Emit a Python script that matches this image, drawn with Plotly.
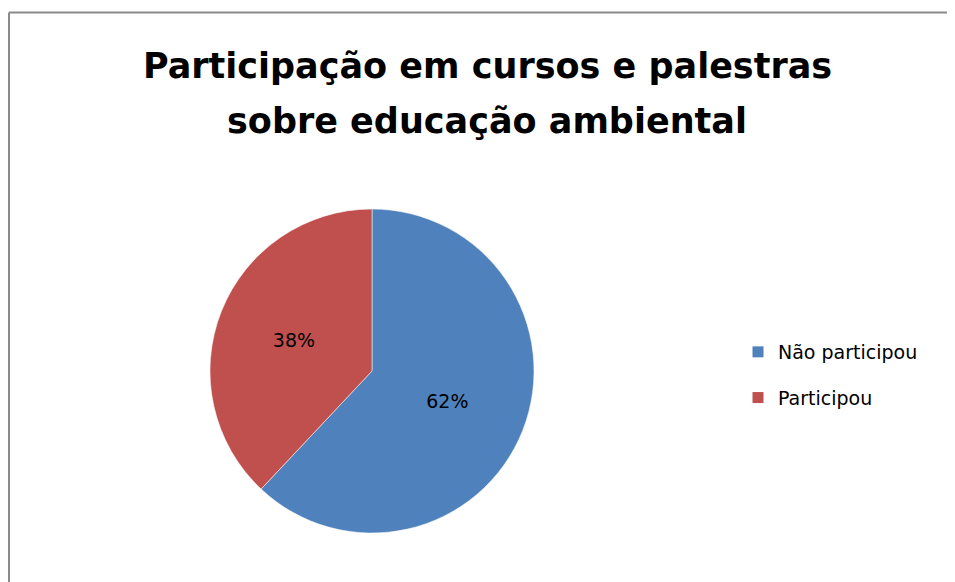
import plotly.graph_objects as go

categories = ["Não participou", "Participou"]
values = [62, 38]
colors = ["#4F81BD", "#C0504D"]
title_lines = ["Participação em cursos e palestras", "sobre educação ambiental"]

# the page body adds an 8px margin, so the figure is 8px smaller each way
W, H = 947, 574

fig = go.Figure()
fig.add_trace(go.Pie(
    labels=categories,
    values=values,
    sort=False,
    direction="clockwise",
    rotation=0,
    marker=dict(colors=colors, line=dict(color="rgba(255,255,255,0.5)", width=1)),
    textinfo="percent",
    texttemplate="%{percent:.0%}",
    textposition="inside",
    insidetextorientation="horizontal",
    textfont=dict(family="DejaVu Sans", size=19, color="#000000"),
    domain=dict(x=[202 / W, 526 / W], y=[49 / H, 373 / H]),
    showlegend=False,
    hoverinfo="label+percent",
))

# legend entries (one group per category, so spacing can match the reference)
for name, col in zip(categories, colors):
    fig.add_trace(go.Scatter(
        x=[None], y=[None], mode="markers", name=name,
        legendgroup=name,
        marker=dict(symbol="square", size=11, color=col),
        hoverinfo="skip",
    ))

title_font = dict(family="DejaVu Sans", size=35, color="#000000", weight="bold")
annotations = [
    dict(text=title_lines[0], xref="paper", yref="paper",
         x=479 / W, y=1 - 57.5 / H, xanchor="center", yanchor="middle",
         showarrow=False, font=title_font),
    dict(text=title_lines[1], xref="paper", yref="paper",
         x=479 / W, y=1 - 112.5 / H, xanchor="center", yanchor="middle",
         showarrow=False, font=title_font),
]

border = dict(color="#8a8a8a", width=2)
fig.update_layout(
    width=W, height=H,
    margin=dict(l=0, r=0, t=0, b=0),
    paper_bgcolor="white",
    plot_bgcolor="white",
    xaxis=dict(visible=False),
    yaxis=dict(visible=False),
    annotations=annotations,
    legend=dict(
        x=730 / W, xanchor="left",
        y=1 - 325 / H, yanchor="top",
        font=dict(family="DejaVu Sans", size=19, color="#000000"),
        tracegroupgap=18,
        bgcolor="rgba(0,0,0,0)",
        itemclick=False,
    ),
    shapes=[
        dict(type="line", xref="paper", yref="paper",
             x0=1 / W, x1=1 / W, y0=0, y1=1 - 4.5 / H, line=border, layer="below"),
        dict(type="line", xref="paper", yref="paper",
             x0=1 / W, x1=1, y0=1 - 4.5 / H, y1=1 - 4.5 / H, line=border, layer="below"),
    ],
)

fig.write_html("out.html")
